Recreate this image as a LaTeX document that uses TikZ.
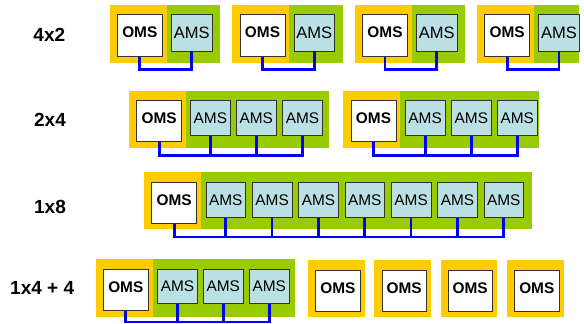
\documentclass[tikz,border=0pt]{standalone}
\usepackage{fontspec}
\setmainfont{Liberation Sans}
\definecolor{ybg}{RGB}{255,204,0}
\definecolor{gbg}{RGB}{153,204,0}
\definecolor{amsfill}{RGB}{187,224,228}
\definecolor{edgecol}{RGB}{51,51,51}
\definecolor{buscol}{RGB}{0,0,255}
\begin{document}
\begin{tikzpicture}[x=1pt,y=-1pt,
  omsbox/.style={draw=edgecol, line width=0.8pt, fill=white, inner sep=0pt,
    font=\bfseries\fontsize{15.4}{16}\selectfont, text height=11pt, text depth=6pt,
    minimum width=45pt, minimum height=41.7pt},
  amsbox/.style={draw=edgecol, line width=0.8pt, fill=amsfill, inner sep=0pt,
    font=\fontsize{15.4}{16}\selectfont, minimum width=39.7pt, minimum height=35pt},
  busline/.style={draw=buscol, line width=2.7pt},
  rowlabel/.style={font=\bfseries\fontsize{19}{20}\selectfont, inner sep=0pt}]
\useasboundingbox (0,0) rectangle (584,324);

% row labels
\node[rowlabel] (l1) at (49.3,35.3) {4x2};
\node[rowlabel] (l2) at (50,120) {2x4};
\node[rowlabel] (l3) at (50,206.5) {1x8};
\node[rowlabel] (l4) at (42.2,288.3) {1x4 + 4};

% ---------- row 1: 4x2 ----------
\foreach \ys/\gs/\ge/\ox/\ax [count=\i] in
  {110/166.7/220/139.8/191.7, 231.7/288.7/343.3/262.5/314.2,
   355/411.7/465/385/436.7, 477.3/534.3/579.3/507.2/559}{
  \fill[ybg] (\ys,5) rectangle (\gs,63);
  \fill[gbg] (\gs,5) rectangle (\ge,63);
  \node[omsbox] (o1\i) at (\ox,35.4) {OMS};
  \node[amsbox, minimum width=40.5pt, minimum height=36.5pt,
        font=\fontsize{16.5}{17}\selectfont] (a1\i) at (\ax,32.75) {AMS};
  \draw[busline] (o1\i.south) |- (a1\i.south |- 0,69.5) -- (a1\i.south);
}

% ---------- row 2: 2x4 ----------
\foreach \ys/\gs/\ge/\ox/\axa/\axb/\axc [count=\i] in
  {129/186/329.3/159.2/210.35/256.2/302.5,
   343.3/400/539.3/373.5/425.15/471.35/517.3}{
  \fill[ybg] (\ys,91) rectangle (\gs,148.3);
  \fill[gbg] (\gs,91) rectangle (\ge,148.3);
  \node[omsbox, minimum height=41pt] (o2\i) at (\ox,121.2) {OMS};
  \node[amsbox] (a2\i1) at (\axa,118.2) {AMS};
  \node[amsbox] (a2\i2) at (\axb,118.2) {AMS};
  \node[amsbox] (a2\i3) at (\axc,118.2) {AMS};
  \draw[busline] (o2\i.south) |- (a2\i3.south |- 0,155.3) -- (a2\i3.south);
  \draw[busline] (a2\i1.south) -- (a2\i1.south |- 0,155.3);
  \draw[busline] (a2\i2.south) -- (a2\i2.south |- 0,155.3);
}

% ---------- row 3: 1x8 ----------
\fill[ybg] (144,172.3) rectangle (201,229.3);
\fill[gbg] (201,172.3) rectangle (532,229.3);
\node[omsbox, minimum height=41.4pt] (o3) at (174.2,203) {OMS};
\foreach \k in {1,...,7}{
  \node[amsbox] (a3\k) at ({225.8+46.33*(\k-1)},199.8) {AMS};
}
\draw[busline] (o3.south) |- (a37.south |- 0,237) -- (a37.south);
\foreach \k in {1,...,6}{
  \draw[busline] (a3\k.south) -- (a3\k.south |- 0,237);
}

% ---------- row 4: 1x4 + 4 ----------
\fill[ybg] (96,259) rectangle (152.7,316.7);
\fill[gbg] (152.7,259) rectangle (295,316.7);
\node[omsbox] (o4) at (125.8,289.85) {OMS};
\node[amsbox, minimum width=40pt, minimum height=34.3pt] (a41) at (177.5,286.15) {AMS};
\node[amsbox, minimum width=40pt, minimum height=34.3pt] (a42) at (223.3,286.15) {AMS};
\node[amsbox, minimum width=40pt, minimum height=34.3pt] (a43) at (269.3,286.15) {AMS};
\draw[busline] (o4.south) |- (a43.south |- 0,322) -- (a43.south);
\draw[busline] (a41.south) -- (a41.south |- 0,322);
\draw[busline] (a42.south) -- (a42.south |- 0,322);

\foreach \ys/\ye/\ox [count=\i] in
  {308.3/365/337.85, 374.3/430.7/404.2, 440.7/496.7/470.2, 507.3/564/536.8}{
  \fill[ybg] (\ys,260) rectangle (\ye,317.3);
  \node[omsbox, minimum width=44.5pt] (s\i) at (\ox,290.85) {OMS};
}
\end{tikzpicture}
\end{document}
